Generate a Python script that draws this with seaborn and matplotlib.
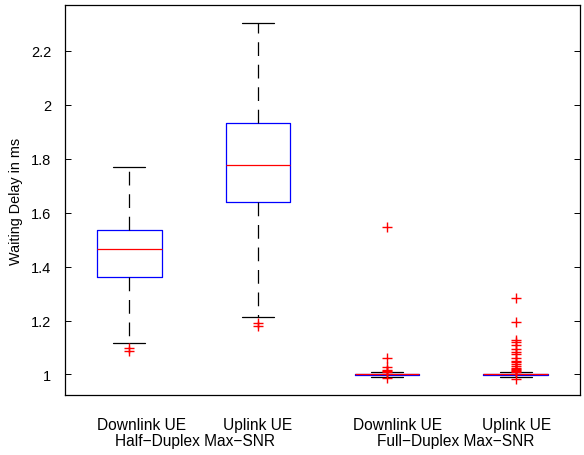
import numpy as np
import pandas as pd
import matplotlib
matplotlib.use("Agg")
import matplotlib.pyplot as plt
import matplotlib.transforms as mtransforms
import seaborn as sns

# ---------------- data ----------------
categories = ["HD Downlink", "HD Uplink", "FD Downlink", "FD Uplink"]
tick_labels = ["Downlink UE", "Uplink UE", "Downlink UE", "Uplink UE"]
group_labels = ["Half\u2212Duplex Max\u2212SNR", "Full\u2212Duplex Max\u2212SNR"]

# five-number summaries (lower whisker, Q1, median, Q3, upper whisker)
whisker_low = [1.116, 1.212, 0.989, 0.990]
q1 = [1.362, 1.638, 0.998, 0.998]
median = [1.465, 1.776, 1.000, 1.000]
q3 = [1.536, 1.931, 1.002, 1.002]
whisker_high = [1.767, 2.304, 1.008, 1.008]

outliers_hd_dl = [1.098, 1.086]
outliers_hd_ul = [1.190, 1.181]
outliers_fd_dl = [1.546, 1.060, 1.027, 1.018, 1.014, 1.010, 0.986]
outliers_fd_ul = [1.283, 1.193, 1.128, 1.120, 1.110, 1.094, 1.085, 1.076,
                  1.061, 1.051, 1.045, 1.039, 1.030, 1.025, 1.020, 1.015,
                  1.012, 1.010, 0.983]

ytick_values = [1.0, 1.2, 1.4, 1.6, 1.8, 2.0, 2.2]
ytick_labels = ["1", "1.2", "1.4", "1.6", "1.8", "2", "2.2"]

# ---------------- tables ----------------
box_df = pd.DataFrame({
    "config": np.repeat(categories, 5),
    "delay": np.column_stack([whisker_low, q1, median, q3, whisker_high]).ravel(),
})
out_lists = [outliers_hd_dl, outliers_hd_ul, outliers_fd_dl, outliers_fd_ul]
out_df = pd.DataFrame({
    "config": [c for c, lst in zip(categories, out_lists) for _ in lst],
    "delay": [v for lst in out_lists for v in lst],
})

# ---------------- plot ----------------
sns.set_style("white")
plt.rcParams["font.family"] = ["Liberation Sans", "DejaVu Sans"]
plt.rcParams["text.color"] = "black"
plt.rcParams["axes.labelcolor"] = "black"
plt.rcParams["xtick.color"] = "black"
plt.rcParams["ytick.color"] = "black"

fig = plt.figure(figsize=(5.84, 4.56), dpi=100)
ax = fig.add_axes([65 / 584, 60 / 456, 515 / 584, 390 / 456])

sns.boxplot(
    data=box_df, x="config", y="delay", order=categories, ax=ax,
    whis=(0, 100), showfliers=False, fill=False, width=0.5,
    linewidth=0.9, linecolor="#0000ff", saturation=1,
    boxprops=dict(color="#0000ff", linewidth=0.9),
    medianprops=dict(color="#ff0000", linewidth=0.9),
    whiskerprops=dict(color="black", linewidth=0.9, linestyle=(0, (11, 7))),
    capprops=dict(color="black", linewidth=0.9),
)

sns.stripplot(
    data=out_df, x="config", y="delay", order=categories, ax=ax,
    jitter=False, marker="+", color="#ff0000", edgecolor="#ff0000",
    size=7, linewidth=1.0, zorder=5,
)

ax.set_xlim(-0.5, 3.5)
ax.set_ylim(0.924, 2.369)
ax.set_yticks(ytick_values)
ax.set_yticklabels(ytick_labels, fontsize=10.5, color="black")
ax.set_xticks([])
ax.set_xlabel("")
ax.set_ylabel("Waiting Delay in ms", fontsize=10.4, labelpad=6, color="black")

ax.tick_params(axis="y", direction="in", length=4, width=0.7,
               left=True, right=True, pad=10, colors="black")
for sp in ax.spines.values():
    sp.set_visible(True)
    sp.set_color("black")
    sp.set_linewidth(0.9)

trans = mtransforms.blended_transform_factory(ax.transData, ax.transAxes)
label_x = [0.098, 0.999, 2.079, 3.01]
for x, t in zip(label_x, tick_labels):
    ax.text(x, -0.0744, t, transform=trans, ha="center", va="center",
            fontsize=11.2, color="black")
group_x = [0.51, 2.537]
for x, t in zip(group_x, group_labels):
    ax.text(x, -0.1167, t, transform=trans, ha="center", va="center",
            fontsize=11.2, color="black")

fig.savefig("out.png", dpi=100)
